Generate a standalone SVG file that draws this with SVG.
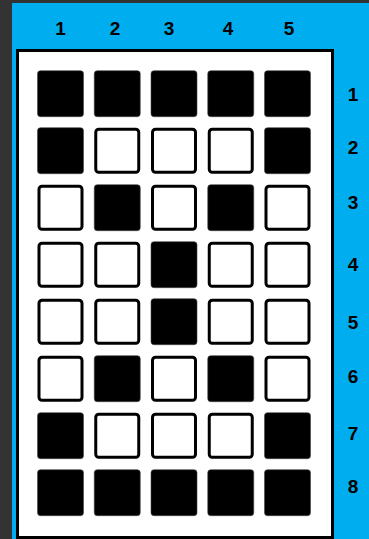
<svg xmlns="http://www.w3.org/2000/svg" width="369" height="539" viewBox="0 0 369 539">
<style>
.lbl{font-family:"Liberation Sans",Arial,sans-serif;font-weight:bold;font-size:19px;fill:#000;text-anchor:middle}
.on{fill:#000;stroke:#444;stroke-width:0.6}
.off{fill:#fff;stroke:#000;stroke-width:3}
</style>
<rect x="0" y="0" width="369" height="539" fill="#333333"/>
<rect x="12" y="3" width="357" height="536" fill="#00AEEF"/>
<rect x="17.5" y="50.5" width="315" height="487" fill="#fff" stroke="#000" stroke-width="3"/>
<g id="col-labels">
<text class="lbl" x="60.5" y="35">1</text>
<text class="lbl" x="115" y="35">2</text>
<text class="lbl" x="169" y="35">3</text>
<text class="lbl" x="228" y="35">4</text>
<text class="lbl" x="289" y="35">5</text>
</g>
<g id="row-labels">
<text class="lbl" x="353" y="101">1</text>
<text class="lbl" x="353" y="154">2</text>
<text class="lbl" x="353" y="209">3</text>
<text class="lbl" x="353" y="271">4</text>
<text class="lbl" x="353" y="329">5</text>
<text class="lbl" x="353" y="383">6</text>
<text class="lbl" x="353" y="440">7</text>
<text class="lbl" x="353" y="493">8</text>
</g>
<g id="row1">
<rect class="on" x="37.5" y="70.7" width="46" height="46" rx="3"/>
<rect class="on" x="94.25" y="70.7" width="46" height="46" rx="3"/>
<rect class="on" x="151" y="70.7" width="46" height="46" rx="3"/>
<rect class="on" x="207.75" y="70.7" width="46" height="46" rx="3"/>
<rect class="on" x="264.5" y="70.7" width="46" height="46" rx="3"/>
</g>
<g id="row2">
<rect class="on" x="37.5" y="127.7" width="46" height="46" rx="3"/>
<rect class="off" x="95.75" y="129.2" width="43" height="43" rx="3"/>
<rect class="off" x="152.5" y="129.2" width="43" height="43" rx="3"/>
<rect class="off" x="209.25" y="129.2" width="43" height="43" rx="3"/>
<rect class="on" x="264.5" y="127.7" width="46" height="46" rx="3"/>
</g>
<g id="row3">
<rect class="off" x="39" y="186.2" width="43" height="43" rx="3"/>
<rect class="on" x="94.25" y="184.7" width="46" height="46" rx="3"/>
<rect class="off" x="152.5" y="186.2" width="43" height="43" rx="3"/>
<rect class="on" x="207.75" y="184.7" width="46" height="46" rx="3"/>
<rect class="off" x="266" y="186.2" width="43" height="43" rx="3"/>
</g>
<g id="row4">
<rect class="off" x="39" y="243.2" width="43" height="43" rx="3"/>
<rect class="off" x="95.75" y="243.2" width="43" height="43" rx="3"/>
<rect class="on" x="151" y="241.7" width="46" height="46" rx="3"/>
<rect class="off" x="209.25" y="243.2" width="43" height="43" rx="3"/>
<rect class="off" x="266" y="243.2" width="43" height="43" rx="3"/>
</g>
<g id="row5">
<rect class="off" x="39" y="300.2" width="43" height="43" rx="3"/>
<rect class="off" x="95.75" y="300.2" width="43" height="43" rx="3"/>
<rect class="on" x="151" y="298.7" width="46" height="46" rx="3"/>
<rect class="off" x="209.25" y="300.2" width="43" height="43" rx="3"/>
<rect class="off" x="266" y="300.2" width="43" height="43" rx="3"/>
</g>
<g id="row6">
<rect class="off" x="39" y="357.2" width="43" height="43" rx="3"/>
<rect class="on" x="94.25" y="355.7" width="46" height="46" rx="3"/>
<rect class="off" x="152.5" y="357.2" width="43" height="43" rx="3"/>
<rect class="on" x="207.75" y="355.7" width="46" height="46" rx="3"/>
<rect class="off" x="266" y="357.2" width="43" height="43" rx="3"/>
</g>
<g id="row7">
<rect class="on" x="37.5" y="412.7" width="46" height="46" rx="3"/>
<rect class="off" x="95.75" y="414.2" width="43" height="43" rx="3"/>
<rect class="off" x="152.5" y="414.2" width="43" height="43" rx="3"/>
<rect class="off" x="209.25" y="414.2" width="43" height="43" rx="3"/>
<rect class="on" x="264.5" y="412.7" width="46" height="46" rx="3"/>
</g>
<g id="row8">
<rect class="on" x="37.5" y="469.7" width="46" height="46" rx="3"/>
<rect class="on" x="94.25" y="469.7" width="46" height="46" rx="3"/>
<rect class="on" x="151" y="469.7" width="46" height="46" rx="3"/>
<rect class="on" x="207.75" y="469.7" width="46" height="46" rx="3"/>
<rect class="on" x="264.5" y="469.7" width="46" height="46" rx="3"/>
</g>
</svg>
